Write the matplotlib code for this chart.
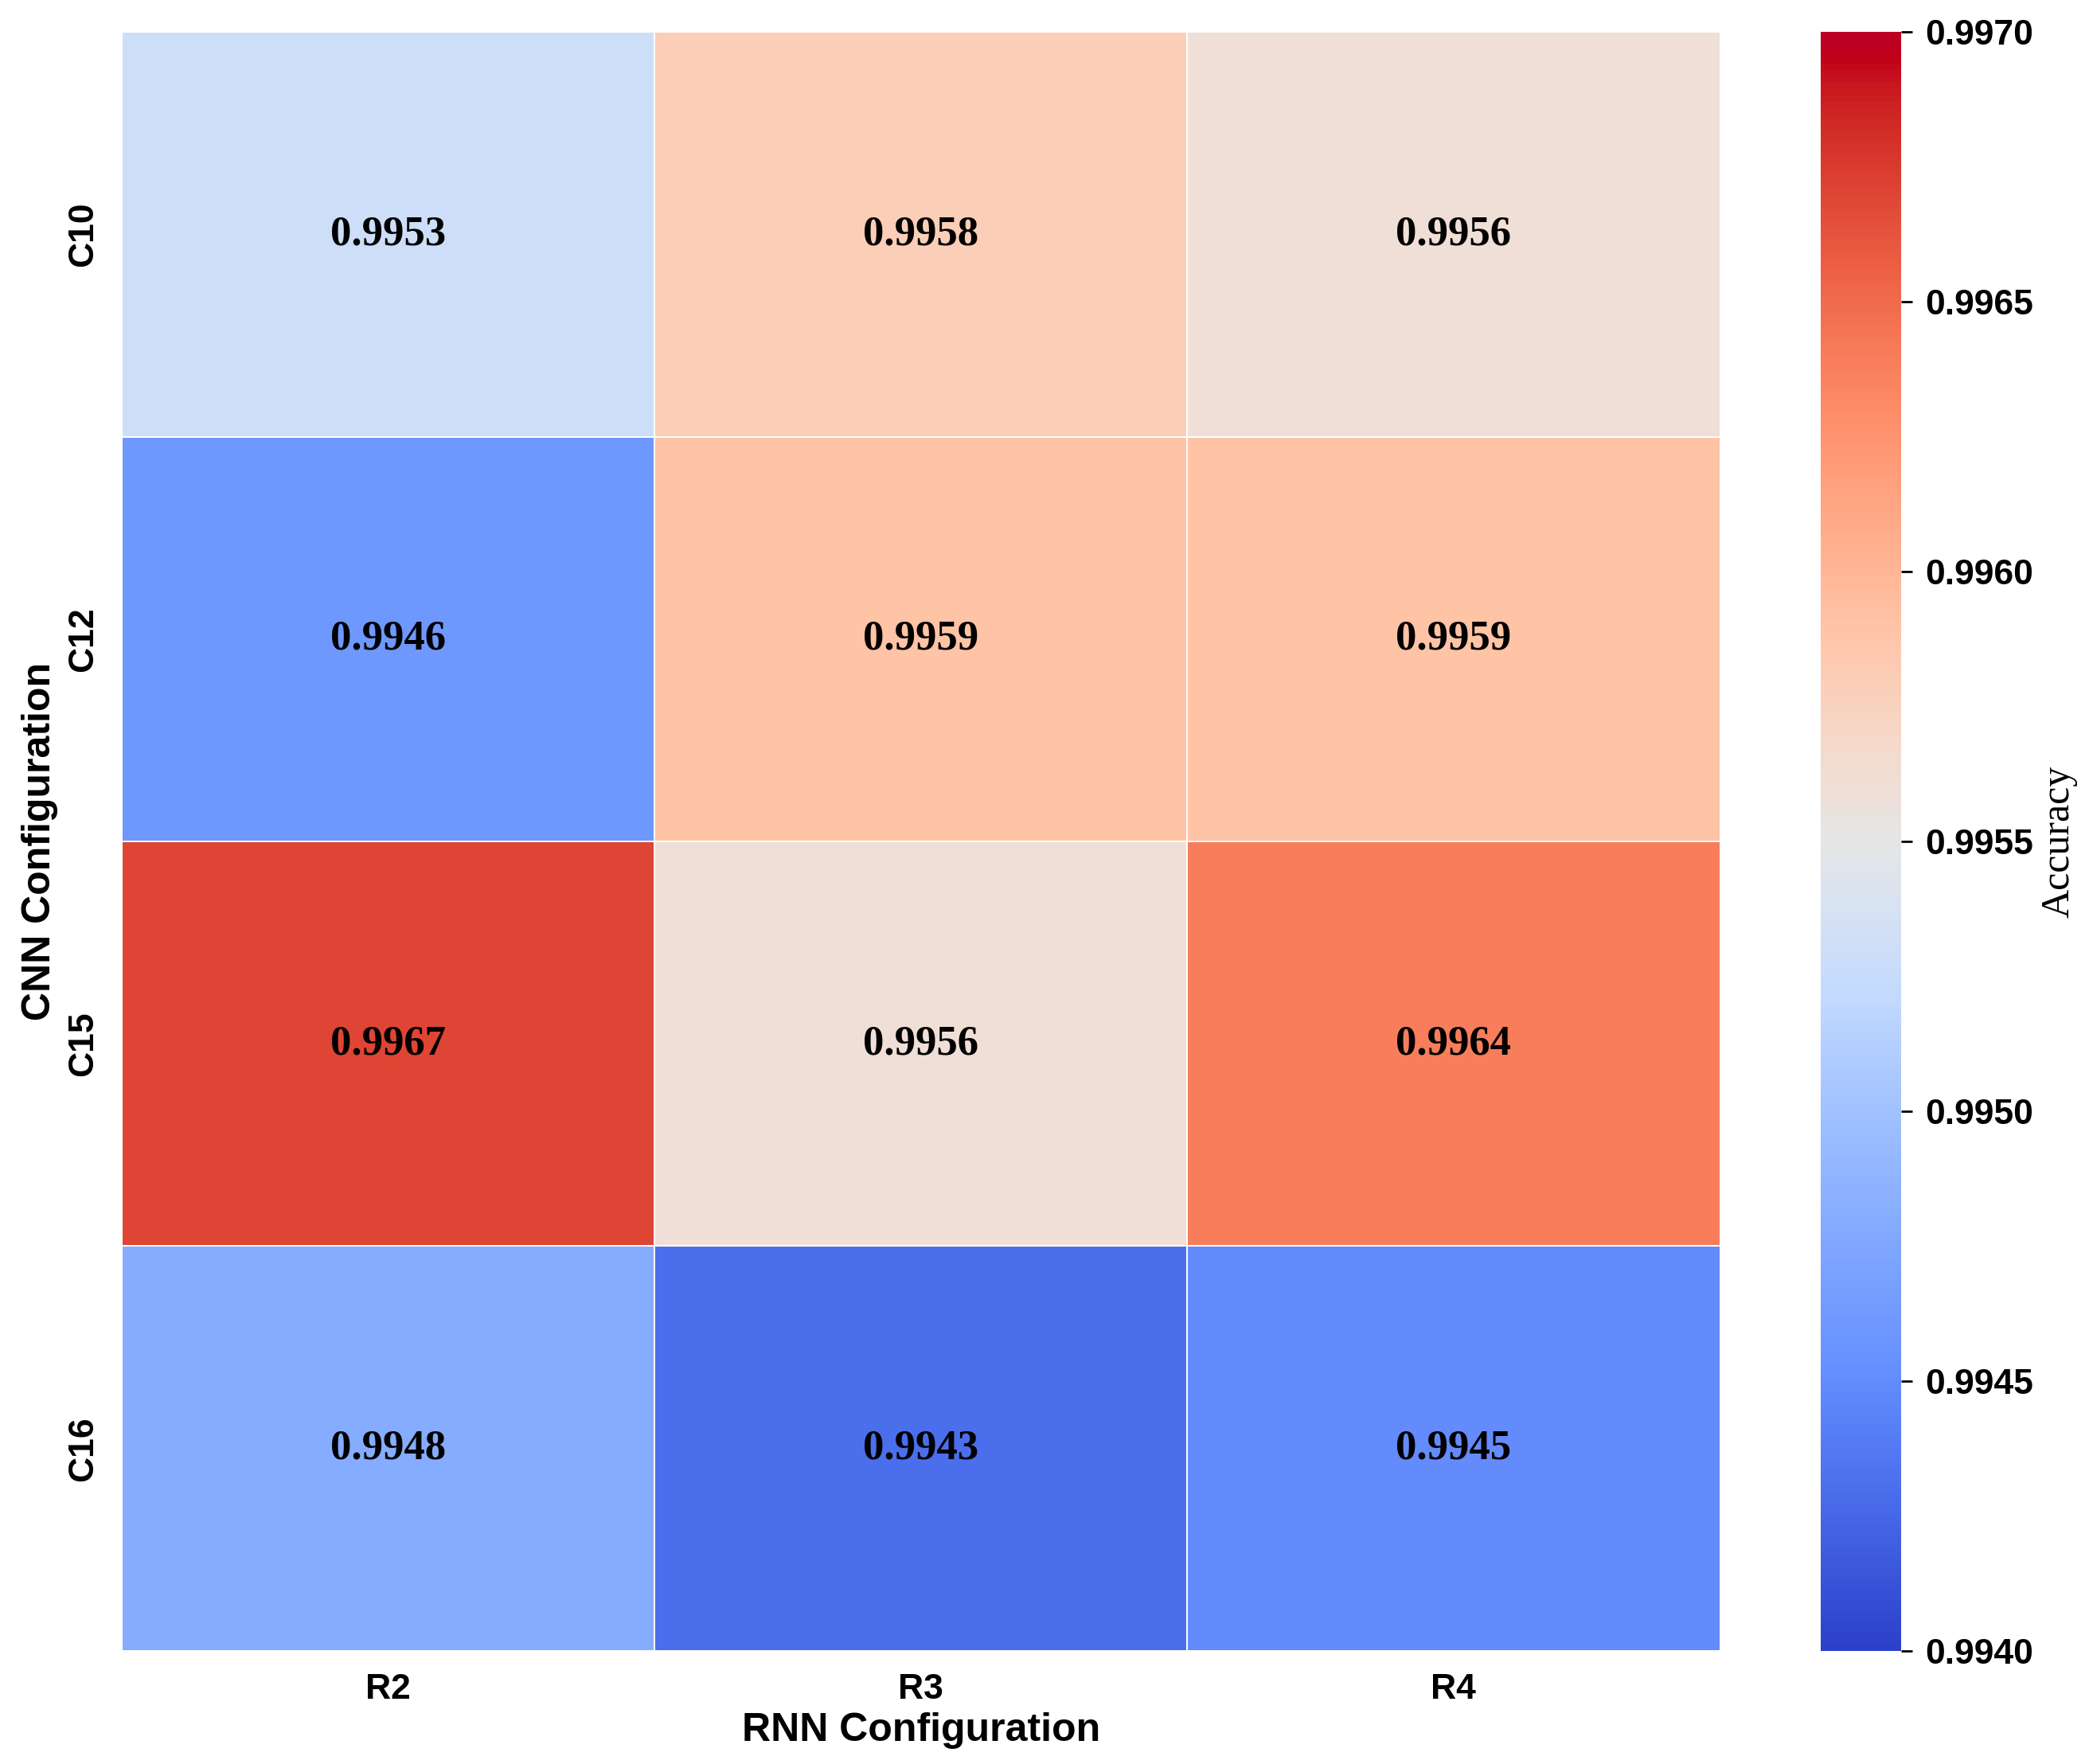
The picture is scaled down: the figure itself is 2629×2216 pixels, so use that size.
import matplotlib
matplotlib.use("Agg")
import matplotlib.pyplot as plt
from matplotlib.colors import ListedColormap, rgb_to_hsv, hsv_to_rgb
import numpy as np
import pandas as pd
import seaborn as sns

# accuracy grid: rows = CNN config, cols = RNN config
cnn_configs = ["C10", "C12", "C15", "C16"]
rnn_configs = ["R2", "R3", "R4"]
acc_r2 = [0.9953, 0.9946, 0.9967, 0.9948]
acc_r3 = [0.9958, 0.9959, 0.9956, 0.9943]
acc_r4 = [0.9956, 0.9959, 0.9964, 0.9945]
cbar_ticks = [0.9940, 0.9945, 0.9950, 0.9955, 0.9960, 0.9965, 0.9970]

df = pd.DataFrame({"R2": acc_r2, "R3": acc_r3, "R4": acc_r4}, index=cnn_configs)

# coolwarm, pushed a little more saturated like the source image
base = plt.get_cmap("coolwarm")(np.linspace(0, 1, 256))[:, :3]
hsv = rgb_to_hsv(base)
hsv[:, 1] = np.clip(hsv[:, 1] * 1.12, 0, 1)
hsv[:, 2] = np.clip(hsv[:, 2] * 1.04, 0, 1)
cmap = ListedColormap(hsv_to_rgb(hsv))

SANS = "Liberation Sans"
SERIF = "Liberation Serif"

fig = plt.figure(figsize=(13.145, 11.08), dpi=200)
ax = fig.add_axes([0.0582, 0.0641, 0.7636, 0.9178])
cax = fig.add_axes([0.870, 0.0641, 0.0384, 0.9178])

sns.heatmap(df, ax=ax, cbar_ax=cax, cmap=cmap, vmin=0.994, vmax=0.997,
            annot=True, fmt=".4f", linewidths=0.7, linecolor="white",
            annot_kws={"family": SERIF, "weight": "bold", "size": 19, "color": "black"},
            cbar_kws={"ticks": cbar_ticks})

ax.set_xlabel("RNN Configuration", fontfamily=SANS, fontweight="bold", fontsize=18, labelpad=3)
ax.set_ylabel("CNN Configuration", fontfamily=SANS, fontweight="bold", fontsize=18, labelpad=4)
ax.set_xticklabels(rnn_configs, fontfamily=SANS, fontweight="bold", fontsize=16, rotation=0)
ax.set_yticklabels(cnn_configs, fontfamily=SANS, fontweight="bold", fontsize=16, rotation=90, va="center")
ax.tick_params(length=0, pad=10)

cb = ax.collections[0].colorbar
cb.ax.tick_params(labelsize=16, length=5, width=1, pad=6)
cb.ax.set_yticklabels([f"{t:.4f}" for t in cbar_ticks], fontfamily=SANS, fontweight="bold", fontsize=16)
cb.set_label("Accuracy", fontfamily=SERIF, fontsize=18, labelpad=3)
cb.outline.set_visible(False)

fig.savefig("out.png", dpi=200, facecolor="white")
